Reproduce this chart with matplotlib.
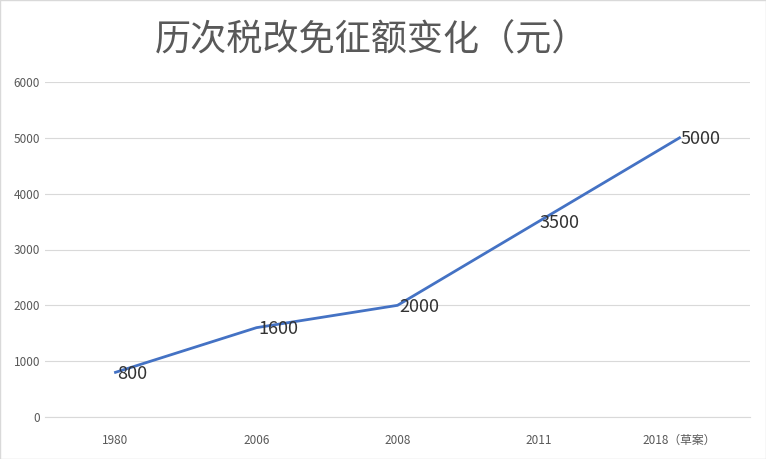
import matplotlib
matplotlib.use('Agg')
from matplotlib import pyplot as plt

plt.rcParams['font.family'] = ['Noto Sans CJK SC', 'DejaVu Sans']

years = ['1980', '2006', '2008', '2011', '2018（草案）']
amounts = [800, 1600, 2000, 3500, 5000]

fig = plt.figure(figsize=(7.66, 4.59), dpi=100)
ax = fig.add_axes([45 / 766, 1 - 417 / 459, 705 / 766, 335 / 459])
x = list(range(len(years)))
ax.plot(x, amounts, color='#4472C4', lw=2)
for xi, v in zip(x, amounts):
    ax.annotate(str(v), (xi, v), xytext=(1, -1), textcoords='offset points',
                ha='left', va='center', fontsize=13, color='#333333')
ax.set_xlim(-0.5, 4.5)
ax.set_ylim(0, 6000)
ax.set_yticks(range(0, 6001, 1000))
ax.set_xticks(x)
ax.set_xticklabels(years)
ax.tick_params(length=0, labelsize=8.5, colors='#595959')
ax.tick_params(axis='x', pad=12)
ax.grid(axis='y', color='#d9d9d9', lw=0.8)
for s in ['top', 'right', 'left']:
    ax.spines[s].set_visible(False)
ax.spines['bottom'].set_color('#d9d9d9')
fig.text(0.485, 1 - 40 / 459, '历次税改免征额变化（元）', ha='center', va='center',
         fontsize=26, color='#595959', fontweight='light')
fig.patches.append(plt.Rectangle((0, 0), 1, 1, transform=fig.transFigure,
                                 fill=False, ec='#d9d9d9', lw=1))
fig.savefig('out.png')
